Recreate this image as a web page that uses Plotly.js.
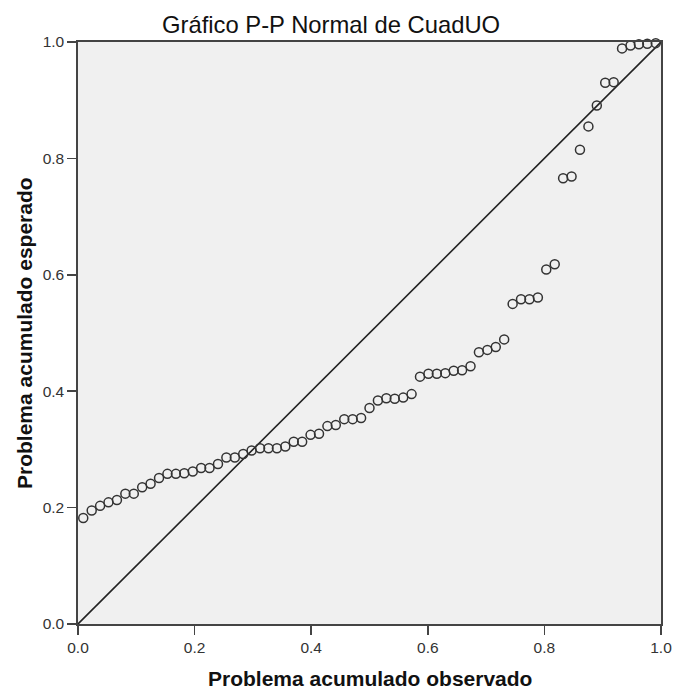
<!DOCTYPE html>
<html>
<head>
<meta charset="utf-8">
<script src="https://cdn.plot.ly/plotly-3.0.1.min.js"></script>
<style>html,body{margin:0;padding:0;background:#fff;}#chart{width:677px;height:693px;}</style>
</head>
<body>
<div id="chart"></div>
<script>
// Observed cumulative probability (x) and expected cumulative probability (y)
const observedCum = [0.0090,0.0235,0.0379,0.0523,0.0668,0.0812,0.0957,0.1101,0.1245,0.1390,
  0.1534,0.1679,0.1823,0.1968,0.2112,0.2256,0.2401,0.2545,0.2690,0.2834,
  0.2978,0.3123,0.3267,0.3412,0.3556,0.3700,0.3845,0.3989,0.4134,0.4278,
  0.4422,0.4567,0.4711,0.4856,0.5000,0.5144,0.5289,0.5433,0.5578,0.5722,
  0.5866,0.6011,0.6155,0.6300,0.6444,0.6588,0.6733,0.6877,0.7022,0.7166,
  0.7310,0.7455,0.7599,0.7744,0.7888,0.8032,0.8177,0.8321,0.8466,0.8610,
  0.8755,0.8899,0.9043,0.9188,0.9332,0.9477,0.9621,0.9765,0.9910];
const expectedCum = [0.182,0.195,0.203,0.209,0.213,0.224,0.224,0.235,0.241,0.251,
  0.258,0.258,0.259,0.262,0.268,0.268,0.275,0.286,0.286,0.292,
  0.298,0.302,0.302,0.302,0.305,0.313,0.313,0.325,0.327,0.340,
  0.342,0.352,0.352,0.354,0.371,0.384,0.388,0.387,0.389,0.395,
  0.425,0.430,0.430,0.431,0.435,0.436,0.443,0.467,0.471,0.476,
  0.489,0.550,0.558,0.558,0.561,0.609,0.618,0.766,0.769,0.815,
  0.855,0.891,0.930,0.931,0.989,0.994,0.996,0.997,0.998];
const refLineX = [0, 1];
const refLineY = [0, 1];
const tickVals = [0, 0.2, 0.4, 0.6, 0.8, 1.0];
const tickLabels = ["0.0", "0.2", "0.4", "0.6", "0.8", "1.0"];

const chartTitle = "Gráfico P-P Normal de CuadUO";
const xTitle = "Problema acumulado observado";
const yTitle = "Problema acumulado esperado";

const FONT = "Liberation Sans, Arial, sans-serif";

const traces = [
  {
    x: refLineX, y: refLineY, mode: "lines", type: "scatter",
    line: {color: "#222", width: 1.6}, hoverinfo: "skip", showlegend: false
  },
  {
    x: observedCum, y: expectedCum, mode: "markers", type: "scatter",
    marker: {symbol: "circle-open", size: 9, color: "#333", line: {width: 1.5, color: "#333"}},
    cliponaxis: false, showlegend: false
  }
];

const axisCommon = {
  range: [0, 1], tickvals: tickVals, ticktext: tickLabels,
  ticks: "outside", ticklen: 9, tickwidth: 1.5, tickcolor: "#444",
  showline: true, linecolor: "#444", linewidth: 1.7, mirror: true,
  showgrid: false, zeroline: false, fixedrange: true,
  tickfont: {family: FONT, size: 15.5, color: "#333"}
};

const layout = {
  width: 677, height: 693,
  margin: {l: 78, r: 16, t: 42, b: 69, pad: 0},
  paper_bgcolor: "#ffffff", plot_bgcolor: "#f0f0f0",
  font: {family: FONT},
  title: {
    text: chartTitle, xref: "container", x: 0.489, xanchor: "center",
    yref: "container", y: 1 - 25 / 693, yanchor: "middle",
    font: {family: FONT, size: 23.8, color: "#111"}
  },
  xaxis: Object.assign({}, axisCommon, {title: {text: ""}}),
  yaxis: Object.assign({}, axisCommon, {title: {text: ""}}),
  annotations: [
    {text: "<b>" + xTitle + "</b>", xref: "paper", yref: "paper", x: 0.5, y: -54 / 582,
     xanchor: "center", yanchor: "middle", showarrow: false,
     font: {family: FONT, size: 21, color: "#111"}},
    {text: "<b>" + yTitle + "</b>", xref: "paper", yref: "paper", x: -54 / 583, y: 0.5,
     xanchor: "center", yanchor: "middle", textangle: -90, showarrow: false,
     font: {family: FONT, size: 21, color: "#111"}}
  ]
};

Plotly.newPlot("chart", traces, layout, {displayModeBar: false, staticPlot: true});
</script>
</body>
</html>
